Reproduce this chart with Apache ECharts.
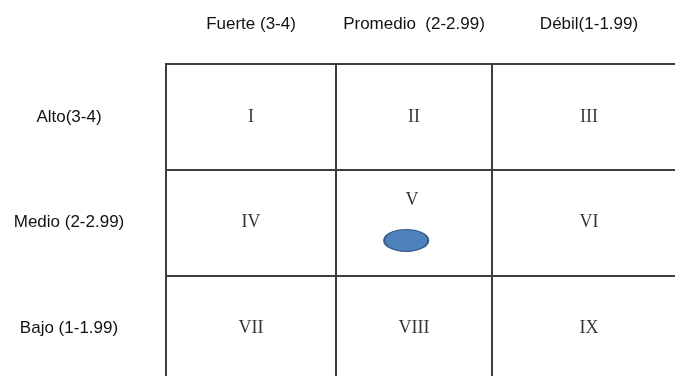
<!DOCTYPE html>
<html><head><meta charset="utf-8">
<script src="https://cdn.jsdelivr.net/npm/echarts@6/dist/echarts.min.js"></script>
<style>html,body{margin:0;padding:0;background:#fff}#c{width:675px;height:376px}</style>
</head><body><div id="c"></div>
<script>
// ---- data ----
const colLabels = ['Fuerte (3-4)', 'Promedio  (2-2.99)', 'Débil(1-1.99)'];
const colRanges = [[3, 4], [2, 3], [1, 2]];
const rowLabels = ['Alto(3-4)', 'Medio (2-2.99)', 'Bajo (1-1.99)'];
const rowRanges = [[3, 4], [2, 3], [1, 2]];
const cellNames = [['I', 'II', 'III'], ['IV', 'V', 'VI'], ['VII', 'VIII', 'IX']];
const firmPosition = [2.55, 2.33]; // [internal score, external score]

// ---- layout / style ----
const lineColor = '#3d3d3d';
const sansFont = 'Liberation Sans';
const serifFont = 'Liberation Serif';
const gridLayout = [{ left: 166, width: 170 }, { left: 336, width: 156 }, { left: 492, width: 194 }];
const gridTop = 64, gridHeight = 317;
const mid = r => (r[0] + r[1]) / 2;

const grids = gridLayout.map(g => ({
  left: g.left, width: g.width, top: gridTop, height: gridHeight,
  outerBoundsMode: 'none', containLabel: false,
  show: true, borderColor: lineColor, borderWidth: 2, backgroundColor: 'transparent'
}));

const xAxes = colLabels.map((lab, c) => ({
  type: 'value', gridIndex: c, min: colRanges[c][0], max: colRanges[c][1], inverse: true,
  position: 'top', name: lab, nameLocation: 'middle', nameGap: 31,
  nameTextStyle: { fontSize: 17, fontFamily: sansFont, color: '#111' },
  axisLine: { show: false }, axisTick: { show: false }, axisLabel: { show: false }, splitLine: { show: false }
}));

const yAxes = colLabels.map((lab, c) => ({
  type: 'value', gridIndex: c, min: 1, max: 4, interval: 1, position: 'left',
  axisLine: { show: false }, axisTick: { show: false }, axisLabel: { show: false },
  splitLine: { show: true, lineStyle: { color: lineColor, width: 2 } }
}));
yAxes.push({
  type: 'category', gridIndex: 0, data: rowLabels, inverse: true, position: 'left', offset: 0,
  axisLine: { show: false }, axisTick: { show: false }, splitLine: { show: false },
  axisLabel: {
    margin: 32, formatter: v => '{a|' + v + '}',
    rich: { a: { width: 130, align: 'center', fontSize: 17, fontFamily: sansFont, color: '#111' } }
  }
});

const series = colLabels.map((lab, c) => ({
  type: 'scatter', xAxisIndex: c, yAxisIndex: c, symbolSize: 1,
  itemStyle: { color: 'rgba(0,0,0,0)' }, silent: true,
  label: { show: true, position: 'inside', formatter: '{b}', fontSize: 18, fontFamily: serifFont, color: '#000' },
  data: rowRanges.map((rr, r) => {
    const item = { name: cellNames[r][c], value: [mid(colRanges[c]), mid(rr)] };
    if (cellNames[r][c] === 'V') item.label = { offset: [-2, -22] };
    return item;
  })
}));
series.push({
  type: 'scatter', xAxisIndex: 1, yAxisIndex: 1, symbol: 'circle', symbolSize: [44, 22], z: 5,
  itemStyle: { color: '#4f81bd', borderColor: '#385d8a', borderWidth: 1.5, opacity: 1 },
  data: [firmPosition]
});

const chart = echarts.init(document.getElementById('c'), null, { renderer: 'canvas' });
chart.setOption({
  animation: false,
  backgroundColor: '#fff',
  grid: grids, xAxis: xAxes, yAxis: yAxes, series: series
});
</script></body></html>
